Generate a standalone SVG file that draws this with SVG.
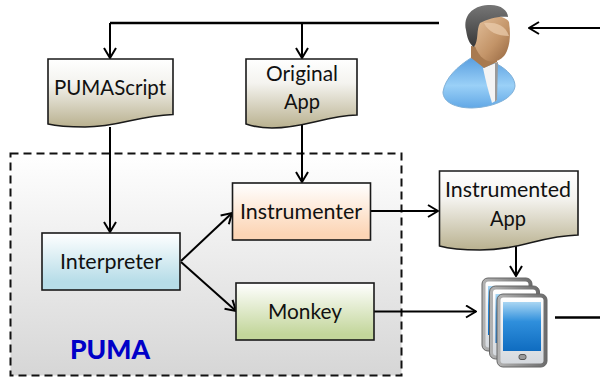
<svg xmlns="http://www.w3.org/2000/svg" width="600" height="379" viewBox="0 0 600 379">
<style>
.n{stroke:#1a1a1a;stroke-width:1.6}
.t{font-family:Lato,"Open Sans",sans-serif;font-size:21.500px;fill:#111;text-anchor:middle}
.c{fill:none;stroke:#000;stroke-width:2}
.k{stroke:#000;stroke-width:2.600;fill:none}
</style>
<defs>
<linearGradient id="doc" x1="0" y1="0" x2="0" y2="1"><stop offset="0" stop-color="#fff"/><stop offset=".35" stop-color="#f4f3ef"/><stop offset="1" stop-color="#b9b18f"/></linearGradient>
<linearGradient id="box" x1="0" y1="0" x2="0" y2="1"><stop offset="0" stop-color="#fff"/><stop offset="1" stop-color="#d6d6d6"/></linearGradient>
<linearGradient id="blue" x1="0" y1="0" x2="0" y2="1"><stop offset="0" stop-color="#fff"/><stop offset=".85" stop-color="#b7dde8"/><stop offset="1" stop-color="#b7dde8"/></linearGradient>
<linearGradient id="org" x1="0" y1="0" x2="0" y2="1"><stop offset="0" stop-color="#fff"/><stop offset=".9" stop-color="#fcd5b5"/></linearGradient>
<linearGradient id="grn" x1="0" y1="0" x2="0" y2="1"><stop offset="0" stop-color="#fff"/><stop offset=".9" stop-color="#c3d69b"/></linearGradient>
<linearGradient id="skin" x1="0" y1="0" x2="1" y2="1"><stop offset="0" stop-color="#e6c4a0"/><stop offset=".6" stop-color="#c39468"/><stop offset="1" stop-color="#94653f"/></linearGradient>
<linearGradient id="hair" x1="0" y1="0" x2="0" y2="1"><stop offset="0" stop-color="#767676"/><stop offset="1" stop-color="#383838"/></linearGradient>
<linearGradient id="shirt" x1="0" y1="0" x2="0" y2="1"><stop offset="0" stop-color="#5a9fe0"/><stop offset=".55" stop-color="#9ad0f7"/><stop offset="1" stop-color="#62a8e6"/></linearGradient>
<linearGradient id="scr" x1="0" y1="0" x2="0" y2="1"><stop offset="0" stop-color="#a9d6f3"/><stop offset=".4" stop-color="#2f8fdc"/><stop offset="1" stop-color="#0f6cc0"/></linearGradient>
<linearGradient id="frame" x1="0" y1="0" x2="1" y2="0"><stop offset="0" stop-color="#b4b4b4"/><stop offset="1" stop-color="#6c6c6c"/></linearGradient>
<linearGradient id="bez" x1="0" y1="0" x2="0" y2="1"><stop offset="0" stop-color="#fff"/><stop offset="1" stop-color="#d5d9de"/></linearGradient>
<marker id="a" viewBox="0 0 12 14" refX="11" refY="7" markerWidth="12" markerHeight="14" markerUnits="userSpaceOnUse" orient="auto"><path d="M1 1L11 7L1 13" fill="none" stroke="#000" stroke-width="2"/></marker>
<g id="tab">
<rect x="0" y="0" width="50" height="73" rx="6" fill="url(#frame)" stroke="#666"/>
<rect x="3.500" y="3.500" width="43" height="66" rx="3" fill="url(#bez)"/>
<rect x="6" y="8" width="38" height="49" fill="url(#scr)"/>
<rect x="22" y="60.500" width="7" height="5" rx="2" fill="#9a9a9a" stroke="#555"/>
</g>
</defs>
<g id="puma"><rect x="10.500" y="153.500" width="391" height="222" fill="url(#box)" stroke="#111" stroke-width="2" stroke-dasharray="8 5"/>
<text x="110" y="359" style="font-family:Lato,'Open Sans',sans-serif;font-weight:900;font-size:27px;fill:#0000c8;text-anchor:middle" textLength="80" lengthAdjust="spacingAndGlyphs">PUMA</text></g>
<g id="connectors">
<path class="k" d="M439 23H110"/><path class="c" d="M110 23V58" marker-end="url(#a)"/>
<path class="c" d="M302 23V58" marker-end="url(#a)"/>
<path class="c" d="M600 28H529" marker-end="url(#a)"/>
<path class="c" d="M110 127V232" marker-end="url(#a)"/>
<path class="c" d="M302 125V182" marker-end="url(#a)"/>
<path class="c" d="M181 261L232 213" marker-end="url(#a)"/>
<path class="c" d="M181 262L236 311" marker-end="url(#a)"/>
<path class="c" d="M371 211L438 211" marker-end="url(#a)"/>
<path class="c" d="M374 311.500L476 311.500" marker-end="url(#a)"/>
<path class="c" d="M516 244V276" marker-end="url(#a)"/>
<path class="k" d="M555 317.500H600"/>
</g>
<g id="pumascript"><path class="n" fill="url(#doc)" d="M48 59H173V114.500C135 116 120 127 85 127C70 127 60 127 48 124Z"/><text class="t" x="110" y="95" textLength="112" lengthAdjust="spacingAndGlyphs">PUMAScript</text></g>
<g id="original-app"><path class="n" fill="url(#doc)" d="M246 59H357V115C325 116 305 128 272 128C260 128 255 127 246 124Z"/><text class="t" x="302" y="81" textLength="72" lengthAdjust="spacingAndGlyphs">Original</text><text class="t" x="302" y="109" textLength="36" lengthAdjust="spacingAndGlyphs">App</text></g>
<g id="interpreter"><rect class="n" x="42" y="233" width="138" height="57" fill="url(#blue)"/><text class="t" x="111" y="269" textLength="102" lengthAdjust="spacingAndGlyphs">Interpreter</text></g>
<g id="instrumenter"><rect class="n" x="232.500" y="183" width="138" height="57" fill="url(#org)"/><text class="t" x="301" y="219" textLength="122" lengthAdjust="spacingAndGlyphs">Instrumenter</text></g>
<g id="monkey"><rect class="n" x="236" y="283" width="138" height="57" fill="url(#grn)"/><text class="t" x="305" y="319" textLength="74" lengthAdjust="spacingAndGlyphs">Monkey</text></g>
<g id="instrumented-app"><path class="n" fill="url(#doc)" d="M439.500 171H578V235C540 236 520 250 480 250C462 250 450 249 439.500 246Z"/><text class="t" x="508" y="197" textLength="126" lengthAdjust="spacingAndGlyphs">Instrumented</text><text class="t" x="508" y="226" textLength="36" lengthAdjust="spacingAndGlyphs">App</text></g>
<g id="user">
<path d="M443 92C445 78 458 66 471 58L497 64C508 70 515 78 515 86C514 97 497 107 472 108C455 108 443 102 443 92Z" fill="url(#shirt)" stroke="#7fb0d8"/>
<path d="M483 68L496 63L497 100L492 103C488 90 485 78 483 68Z" fill="#f4f4f4"/>
<path d="M495 63L498 62L497 100L495 102Z" fill="#9a9a9a"/>
<path d="M471 46L497 48L497 62L484 68C479 64 474 60 471 58Z" fill="#a87a50"/>
<path d="M472 20C482 14 505 14 509 22C511 35 510 48 504 56C498 63 490 63 484 59C474 52 471 35 472 20Z" fill="url(#skin)"/>
<path d="M484 23C494 22 505 24 509 36C498 36 488 32 484 23Z" fill="#e9cbab" opacity=".75"/>
<path d="M466 30C463 16 472 6 488 5C500 4 508 10 508 17C498 16 488 19 480 23C476 30 479 40 474 47C469 44 467 37 466 30Z" fill="url(#hair)"/>
</g>
<g id="devices">
<use href="#tab" x="482" y="278"/><use href="#tab" x="489.500" y="286"/><use href="#tab" x="497" y="294"/>
</g>
</svg>
